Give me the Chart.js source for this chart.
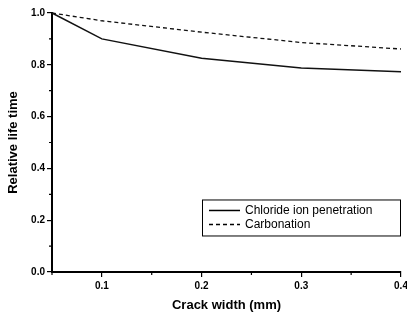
<!DOCTYPE html>
<html>
<head>
<meta charset="utf-8">
<script src="https://cdn.jsdelivr.net/npm/chart.js@4"></script>
<style>
  html, body { margin: 0; padding: 0; background: #fff; }
  #wrap { width: 407px; height: 320px; }
</style>
</head>
<body>
<div id="wrap"><canvas id="lifeChart"></canvas></div>
<script>
// values
const crackWidth = [0.05, 0.1, 0.2, 0.3, 0.4];
const chloride = [1.0, 0.9, 0.825, 0.788, 0.773];
const carbonation = [1.0, 0.97, 0.926, 0.886, 0.861];
const xTicks = [0.1, 0.2, 0.3, 0.4];
const xMinor = [0.05, 0.15, 0.25, 0.35];
const yMinor = [0.1, 0.3, 0.5, 0.7, 0.9];
const seriesNames = ["Chloride ion penetration", "Carbonation"];

const FONT = "'Liberation Sans', Arial, sans-serif";

// short minor ticks + legend box drawn inside the plot
const extras = {
    id: "extras",
    afterDraw(chart) {
        const c = chart.ctx;
        const x = chart.scales.x, y = chart.scales.y;
        const area = chart.chartArea;
        c.save();
        c.strokeStyle = "#000";
        c.lineWidth = 1.2;
        c.beginPath();
        xMinor.forEach(v => {
            const px = x.getPixelForValue(v);
            c.moveTo(px, area.bottom);
            c.lineTo(px, area.bottom + 3);
        });
        yMinor.forEach(v => {
            const py = y.getPixelForValue(v);
            c.moveTo(area.left, py);
            c.lineTo(area.left - 3, py);
        });
        c.stroke();

        // legend
        const bx = area.right - 199, by = y.getPixelForValue(0.28);
        const bw = 198, bh = 36;
        c.lineWidth = 1;
        c.strokeRect(bx + 0.5, by + 0.5, bw, bh);
        c.font = "12px " + FONT;
        c.fillStyle = "#000";
        c.textBaseline = "middle";
        chart.data.datasets.forEach((ds, i) => {
            const ly = by + 11 + i * 14;
            c.beginPath();
            c.setLineDash(ds.borderDash || []);
            c.lineWidth = ds.borderWidth;
            c.moveTo(bx + 7, ly);
            c.lineTo(bx + 38, ly);
            c.stroke();
            c.setLineDash([]);
            c.fillText(ds.label, bx + 43, ly);
        });
        c.restore();
    }
};

const ctx = document.getElementById("lifeChart").getContext("2d");
new Chart(ctx, {
    type: "line",
    data: {
        datasets: [{
            label: seriesNames[0],
            data: crackWidth.map((v, i) => ({ x: v, y: chloride[i] })),
            borderColor: "#111",
            borderWidth: 1.5,
            pointRadius: 0,
            tension: 0
        }, {
            label: seriesNames[1],
            data: crackWidth.map((v, i) => ({ x: v, y: carbonation[i] })),
            borderColor: "#111",
            borderWidth: 1.3,
            borderDash: [4, 3],
            pointRadius: 0,
            tension: 0
        }]
    },
    options: {
        responsive: true,
        maintainAspectRatio: false,
        animation: false,
        clip: false,
        layout: { padding: { left: 0, right: 6, top: 13, bottom: 0 } },
        plugins: { legend: { display: false }, tooltip: { enabled: false } },
        scales: {
            x: {
                type: "linear",
                min: 0.05,
                max: 0.4,
                afterBuildTicks: s => { s.ticks = xTicks.map(v => ({ value: v })); },
                afterFit: s => { s.height = 48; s.paddingRight = 0; },
                border: { color: "#000", width: 2 },
                grid: { drawOnChartArea: false, drawTicks: true, tickLength: 5, color: "#000", lineWidth: 1.2 },
                ticks: {
                    color: "#000",
                    padding: 3,
                    maxRotation: 0,
                    font: { family: FONT, size: 10, weight: "bold" },
                    callback: v => v.toFixed(1)
                },
                title: {
                    display: true,
                    text: "Crack width (mm)",
                    color: "#000",
                    padding: { top: 0, bottom: 7 },
                    font: { family: FONT, size: 13, weight: "bold" }
                }
            },
            y: {
                min: 0,
                max: 1.0,
                ticks: {
                    stepSize: 0.2,
                    color: "#000",
                    padding: 2,
                    font: { family: FONT, size: 10, weight: "bold" },
                    callback: v => v.toFixed(1)
                },
                afterFit: s => { s.width = 52; },
                border: { color: "#000", width: 2 },
                grid: { drawOnChartArea: false, drawTicks: true, tickLength: 5, color: "#000", lineWidth: 1.2 },
                title: {
                    display: true,
                    text: "Relative life time",
                    color: "#000",
                    padding: { top: 6, bottom: 0 },
                    font: { family: FONT, size: 13, weight: "bold" }
                }
            }
        }
    },
    plugins: [extras]
});
</script>
</body>
</html>
